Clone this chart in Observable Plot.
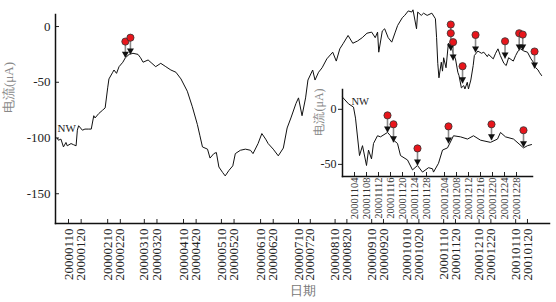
<!DOCTYPE html>
<html><head><meta charset="utf-8">
<script src="https://cdn.jsdelivr.net/npm/d3@7"></script>
<script src="https://cdn.jsdelivr.net/npm/@observablehq/plot@0.6"></script>
<style>
html,body{margin:0;padding:0;background:#fff;}
#wrap{position:relative;width:556px;height:302px;overflow:hidden;background:#fff;}
#main{position:absolute;left:0;top:0;}
#inset{position:absolute;left:300px;top:80px;}
svg text{font-family:'Liberation Serif','Times New Roman',serif;}
</style></head><body><div id="wrap"><div id="main"></div><div id="inset"></div></div>
<script>
// ---------- main series ----------
const mainDates = [
"2000-01-01","2000-01-02","2000-01-04","2000-01-06","2000-01-08","2000-01-09","2000-01-12","2000-01-14","2000-01-16","2000-01-17",
"2000-01-18","2000-01-21","2000-01-23","2000-01-26","2000-01-28","2000-01-30","2000-01-31","2000-02-03","2000-02-06","2000-02-08",
"2000-02-10","2000-02-11","2000-02-14","2000-02-15","2000-02-17","2000-02-19","2000-02-22","2000-02-24","2000-02-27","2000-03-01",
"2000-03-05","2000-03-07","2000-03-09","2000-03-13","2000-03-16","2000-03-19","2000-03-23","2000-03-27","2000-03-31","2000-04-04",
"2000-04-08","2000-04-13","2000-04-17","2000-04-21","2000-04-23","2000-04-25","2000-04-29","2000-05-01","2000-05-04","2000-05-06",
"2000-05-08","2000-05-11","2000-05-13","2000-05-16","2000-05-19","2000-05-21","2000-05-25","2000-05-29","2000-06-02","2000-06-04",
"2000-06-08","2000-06-11","2000-06-14","2000-06-16","2000-06-20","2000-06-24","2000-06-28","2000-07-01","2000-07-04","2000-07-08",
"2000-07-10","2000-07-13","2000-07-16","2000-07-18","2000-07-22","2000-07-24","2000-07-27","2000-07-30","2000-08-03","2000-08-08",
"2000-08-11","2000-08-14","2000-08-17","2000-08-21","2000-08-25","2000-08-29","2000-09-02","2000-09-06","2000-09-10","2000-09-13",
"2000-09-15","2000-09-16","2000-09-19","2000-09-21","2000-09-24","2000-09-27","2000-09-30","2000-10-02","2000-10-06","2000-10-08",
"2000-10-11","2000-10-14","2000-10-15","2000-10-18","2000-10-19","2000-10-22","2000-10-24","2000-10-27","2000-10-31","2000-11-03",
"2000-11-04","2000-11-05","2000-11-06","2000-11-08","2000-11-09","2000-11-10","2000-11-12","2000-11-14","2000-11-17","2000-11-18",
"2000-11-20","2000-11-22","2000-11-23","2000-11-25","2000-11-27","2000-11-28","2000-11-30","2000-12-01","2000-12-03","2000-12-05",
"2000-12-06","2000-12-09","2000-12-12","2000-12-14","2000-12-17","2000-12-18","2000-12-22","2000-12-24","2000-12-26","2000-12-28",
"2000-12-31","2001-01-02","2001-01-04","2001-01-08","2001-01-10","2001-01-12","2001-01-14","2001-01-17","2001-01-20","2001-01-23",
"2001-01-25","2001-01-27","2001-01-29","2001-01-30","2001-02-01"];
const mainValues = [
-100,-102,-101,-108,-104,-107,-105,-106,-107,-93,
-89,-93,-92,-92,-92,-80,-82,-78,-75,-73,
-55,-47,-41,-39,-42,-36,-32,-28,-25,-24,
-25,-28,-32,-30,-33,-36,-33,-36,-39,-41,
-47,-58,-72,-88,-98,-108,-110,-118,-114,-113,
-126,-131,-134,-129,-125,-114,-111,-110,-111,-114,
-105,-96,-101,-105,-110,-116,-109,-91,-82,-69,
-64,-80,-64,-48,-39,-48,-41,-37,-29,-23,
-31,-20,-15,-8,-15,-13,-10,-6,-5,-10,
-5,-23,-4,-2,-10,-14,-5,1,8,10,
14,13,15,-2,13,10,12,10,12,7,
-10,-33,-46,-32,-40,-28,-37,-15,-20,-24,
-29,-41,-44,-55,-53,-56,-50,-56,-48,-35,
-26,-22,-24,-23,-27,-25,-29,-24,-20,-26,
-33,-35,-28,-31,-26,-22,-20,-22,-23,-29,
-32,-37,-39,-41,-44];
const mainEventDates = ["2000-02-24","2000-02-28","2000-11-16","2000-11-16","2000-11-18","2000-11-26","2000-12-07","2001-01-01","2001-01-13","2001-01-16","2001-01-26"];
const mainEventCircle = [-13.5,-10,1.8,-6,-14,-35.6,-7.5,-13.2,-6,-7.2,-22.4];
const mainEventTip = [-28,-25,-21.5,-21.5,-30.5,-51,-23.3,-28.7,-21.5,-21.5,-37.7];
const mainTickLabels = ["20000110","20000120","20000210","20000220","20000310","20000320","20000410","20000420","20000510","20000520",
"20000610","20000620","20000710","20000720","20000810","20000820","20000910","20000920","20001010","20001020",
"20001110","20001120","20001210","20001220","20010110","20010120"];
const mainYTicks = [0,-50,-100,-150];

// ---------- inset series ----------
const insetDates = ["2000-10-31T00:00","2000-11-02T00:00","2000-11-03T16:00","2000-11-04T08:00","2000-11-05T16:00","2000-11-06T16:00",
"2000-11-08T00:00","2000-11-08T16:00","2000-11-09T16:00","2000-11-10T08:00","2000-11-11T16:00","2000-11-12T16:00","2000-11-15T00:00",
"2000-11-16T00:00","2000-11-17T00:00","2000-11-18T08:00","2000-11-19T08:00","2000-11-21T16:00","2000-11-23T08:00","2000-11-25T00:00",
"2000-11-26T16:00","2000-11-28T16:00","2000-11-30T00:00","2000-11-30T08:00","2000-12-02T00:00","2000-12-03T08:00","2000-12-05T00:00",
"2000-12-07T00:00","2000-12-09T08:00","2000-12-11T16:00","2000-12-13T16:00","2000-12-16T00:00","2000-12-19T08:00","2000-12-21T16:00",
"2000-12-22T16:00","2000-12-24T08:00","2000-12-27T00:00","2000-12-30T08:00","2000-12-31T16:00","2001-01-02T00:00"];
const insetValues = [11,5,2,-8,-42,-33,-51,-37,-45,-31,-24,-25,-21,-24,-28,-31,-42,-46,-55,-51,
-57,-53,-54,-57,-49,-37,-35,-24,-25,-27,-24,-28,-30,-27,-21,-25,-27,-35,-33,-32];
const insetEventDates = ["2000-11-15T00:00","2000-11-17T00:00","2000-11-25T00:00","2000-12-05T08:00","2000-12-19T16:00","2000-12-30T08:00"];
const insetEventCircle = [-5.5,-13.6,-35.5,-15.5,-13.6,-19];
const insetEventTip = [-21,-30,-51,-31,-28,-34.5];
const insetTickLabels = ["20001104","20001108","20001112","20001116","20001120","20001124","20001128",
"20001204","20001208","20001212","20001216","20001220","20001224","20001228"];
const insetYTicks = [0,-50];

const yLabel = "电流(μA)";
const xLabel = "日期";
const siteLabel = "NW";

// ---------- build ----------
const parseDay = d3.utcParse("%Y-%m-%d");
const parseHour = d3.utcParse("%Y-%m-%dT%H:%M");
const parseTick = d3.utcParse("%Y%m%d");
const fmt = d3.utcFormat("%Y%m%d");
const SERIF = "'Liberation Serif','Times New Roman',serif";
const CJK = "'Noto Sans CJK SC',sans-serif";

const main = mainDates.map((d,i)=>({date: parseDay(d), value: mainValues[i]}));
const mainEvents = mainEventDates.map((d,i)=>({date: parseDay(d), circle: mainEventCircle[i], tip: mainEventTip[i]}));
const ins = insetDates.map((d,i)=>({date: parseHour(d), value: insetValues[i]}));
const insEvents = insetEventDates.map((d,i)=>({date: parseHour(d), circle: insetEventCircle[i], tip: insetEventTip[i]}));

function eventMarks(ev){
  return [
    Plot.link(ev, {x1:"date", x2:"date", y1:"circle", y2:"tip", stroke:"#8a8a8a", strokeWidth:1.6}),
    Plot.dot(ev, {x:"date", y:"tip", symbol:"triangle", rotate:180, r:2.6, fill:"#111", dy:-4}),
    Plot.dot(ev, {x:"date", y:"circle", r:3.6, fill:"#e8161c", stroke:"#333", strokeWidth:0.8})
  ];
}

const chart = Plot.plot({
  width: 556, height: 302,
  marginLeft: 55, marginRight: 7, marginTop: 14, marginBottom: 79,
  style: {fontFamily: SERIF, fontSize: "13px", color: "#222", background: "transparent", overflow: "visible"},
  x: {type: "utc",
      domain: [new Date(Date.UTC(1999,11,30,17)), new Date(Date.UTC(2000,6,10)), new Date(Date.UTC(2001,1,7,16))],
      range: [55, 298, 549]},
  y: {domain: [-176.7, 10.8]},
  marks: [
    Plot.axisX(mainTickLabels.map(parseTick), {tickSize:-4, tickPadding:9, tickRotate:-90, tickFormat: fmt, label:null, fontSize:13, fontFamily:SERIF, fill:"#222"}),
    Plot.axisY(mainYTicks, {tickSize:-4, tickPadding:9, tickFormat: d=>String(d), label:null, fontSize:13, fontFamily:SERIF, fill:"#222"}),
    Plot.frame({anchor:"left", strokeWidth:1.5, stroke:"#111"}),
    Plot.frame({anchor:"bottom", strokeWidth:1.5, stroke:"#111"}),
    Plot.text([xLabel], {frameAnchor:"bottom", dy:71, fill:"#777", fontFamily:CJK, fontSize:13}),
    Plot.text([yLabel], {frameAnchor:"left", rotate:-90, dx:-47, dy:-6, fill:"#888", fontFamily:CJK, fontSize:13}),
    Plot.text([siteLabel], {frameAnchor:"left", dx:2, dy:9.5, textAnchor:"start", fontSize:11, fontFamily:SERIF, fill:"#222"}),
    Plot.line(main, {x:"date", y:"value", stroke:"#111", strokeWidth:1}),
    ...eventMarks(mainEvents)
  ]
});
document.getElementById("main").appendChild(chart);

const inset = Plot.plot({
  width: 240, height: 145,
  marginLeft: 42, marginRight: 8, marginTop: 9, marginBottom: 49,
  style: {fontFamily: SERIF, fontSize: "11px", color: "#222", background: "transparent", overflow: "visible"},
  x: {type: "utc", domain: [new Date(Date.UTC(2000,9,31)), new Date(Date.UTC(2001,0,2,8))]},
  y: {domain: [-61, 18]},
  marks: [
    Plot.axisX(insetTickLabels.map(parseTick), {tickSize:-4, tickPadding:5, tickRotate:-90, tickFormat: fmt, label:null, fontSize:10.5, fontFamily:SERIF, fill:"#333"}),
    Plot.axisY(insetYTicks, {tickSize:4, tickPadding:2, tickFormat: d=>String(d), label:null, fontSize:12, fontFamily:SERIF, fill:"#222"}),
    Plot.frame({anchor:"left", strokeWidth:1.5, stroke:"#111"}),
    Plot.frame({anchor:"bottom", strokeWidth:1.5, stroke:"#111"}),
    Plot.text([yLabel], {frameAnchor:"left", rotate:-90, dx:-23, dy:2.5, fill:"#888", fontFamily:CJK, fontSize:12}),
    Plot.text([siteLabel], {frameAnchor:"top-left", dx:9, dy:8, textAnchor:"start", fontSize:10.5, fontFamily:SERIF, fill:"#222"}),
    Plot.line(ins, {x:"date", y:"value", stroke:"#111", strokeWidth:1}),
    ...eventMarks(insEvents)
  ]
});
document.getElementById("inset").appendChild(inset);
</script></body></html>
